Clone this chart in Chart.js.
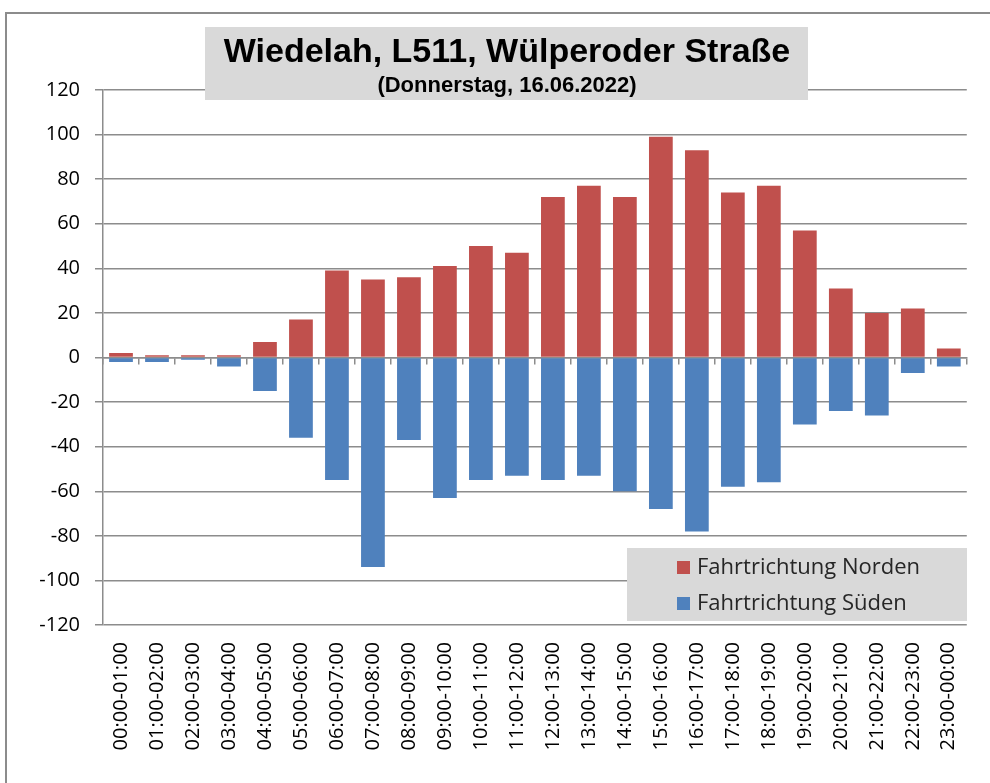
<!DOCTYPE html>
<html>
<head>
<meta charset="utf-8">
<script src="https://cdn.jsdelivr.net/npm/chart.js@4/dist/chart.umd.min.js"></script>
<style>
  html, body { margin: 0; padding: 0; background: #fff; overflow: hidden; }
  #wrap { position: relative; width: 990px; height: 783px; overflow: hidden; }
  #frame { position: absolute; left: 5px; top: 12px; width: 985px; height: 771px;
           border-left: 2px solid #8c8c8c; border-top: 2px solid #8c8c8c; box-sizing: border-box; }
  canvas { position: absolute; left: 0; top: 0; }
</style>
</head>
<body>
<div id="wrap">
  <div id="frame"></div>
  <canvas id="chart" width="990" height="783"></canvas>
</div>
<script>
// Stundenintervalle
const hours = [
  '00:00-01:00', '01:00-02:00', '02:00-03:00', '03:00-04:00', '04:00-05:00', '05:00-06:00',
  '06:00-07:00', '07:00-08:00', '08:00-09:00', '09:00-10:00', '10:00-11:00', '11:00-12:00',
  '12:00-13:00', '13:00-14:00', '14:00-15:00', '15:00-16:00', '16:00-17:00', '17:00-18:00',
  '18:00-19:00', '19:00-20:00', '20:00-21:00', '21:00-22:00', '22:00-23:00', '23:00-00:00'
];
// Fahrzeuge je Stunde (Süden negativ aufgetragen)
const norden = [2, 1, 1, 1, 7, 17, 39, 35, 36, 41, 50, 47, 72, 77, 72, 99, 93, 74, 77, 57, 31, 20, 22, 4];
const sueden = [-2, -2, -1, -4, -15, -36, -55, -94, -37, -63, -55, -53, -55, -53, -60, -68, -78, -58, -56, -30, -24, -26, -7, -4];
const titleText = 'Wiedelah, L511, Wülperoder Straße';
const subtitleText = '(Donnerstag, 16.06.2022)';
const legendNames = ['Fahrtrichtung Norden', 'Fahrtrichtung Süden'];

const gridGrey = '#8c8c8c';

// Titelkasten und Legende wie in Excel
const boxes = {
  id: 'boxes',
  afterDraw(chart) {
    const c = chart.ctx;
    c.save();
    // Titel
    c.fillStyle = '#d9d9d9';
    c.fillRect(205, 27, 603, 73);
    c.fillStyle = '#000';
    c.textAlign = 'center';
    c.textBaseline = 'alphabetic';
    c.font = 'bold 34px "Liberation Sans", Arial, sans-serif';
    c.fillText(titleText, 507, 62);
    c.font = 'bold 22px "Liberation Sans", Arial, sans-serif';
    c.fillText(subtitleText, 507, 92);
    // Legende
    c.fillStyle = '#d9d9d9';
    c.fillRect(627, 548, 340, 73);
    c.textAlign = 'left';
    c.textBaseline = 'middle';
    c.font = '22px "Open Sans", sans-serif';
    chart.data.datasets.forEach((ds, i) => {
      const y = 567 + i * 36;
      c.fillStyle = ds.backgroundColor;
      c.fillRect(677, y - 6, 13, 13);
      c.fillStyle = '#262626';
      c.fillText(ds.label, 697, y + 1);
    });
    c.restore();
  }
};

new Chart(document.getElementById('chart'), {
  type: 'bar',
  data: {
    labels: hours,
    datasets: [
      { label: legendNames[0], data: norden, backgroundColor: '#c0504d', xAxisID: 'x', yAxisID: 'y' },
      { label: legendNames[1], data: sueden, backgroundColor: '#4f81bd', xAxisID: 'x', yAxisID: 'y' }
    ]
  },
  options: {
    responsive: false,
    animation: false,
    events: [],
    layout: { padding: { top: 90, right: 10, left: 0, bottom: 0 } },
    datasets: { bar: { categoryPercentage: 1, barPercentage: 0.66 } },
    plugins: {
      legend: { display: false },
      title: { display: false },
      tooltip: { enabled: false }
    },
    scales: {
      x: {
        stacked: true,
        grid: { display: false, drawTicks: false },
        border: { display: false },
        ticks: {
          minRotation: 90, maxRotation: 90, autoSkip: false, padding: 17,
          color: '#000', font: { family: '"Open Sans", sans-serif', size: 20 }
        },
        afterFit(scale) { scale.height = 158; }
      },
      x2: {
        type: 'category',
        position: { y: 0 },
        z: 1,
        grid: { drawOnChartArea: false, drawTicks: true, tickLength: 6, color: gridGrey, lineWidth: 1.5, offset: true },
        border: { display: true, color: gridGrey, width: 1.5 },
        ticks: { display: false }
      },
      y: {
        stacked: true,
        min: -120, max: 120,
        grid: { color: gridGrey, lineWidth: 1.5, tickLength: 8 },
        border: { display: true, color: gridGrey, width: 1.5 },
        ticks: {
          stepSize: 20, padding: 15,
          color: '#000', font: { family: '"Open Sans", sans-serif', size: 20 }
        },
        afterFit(scale) { scale.width = 103; }
      }
    }
  },
  plugins: [boxes]
});
</script>
</body>
</html>
